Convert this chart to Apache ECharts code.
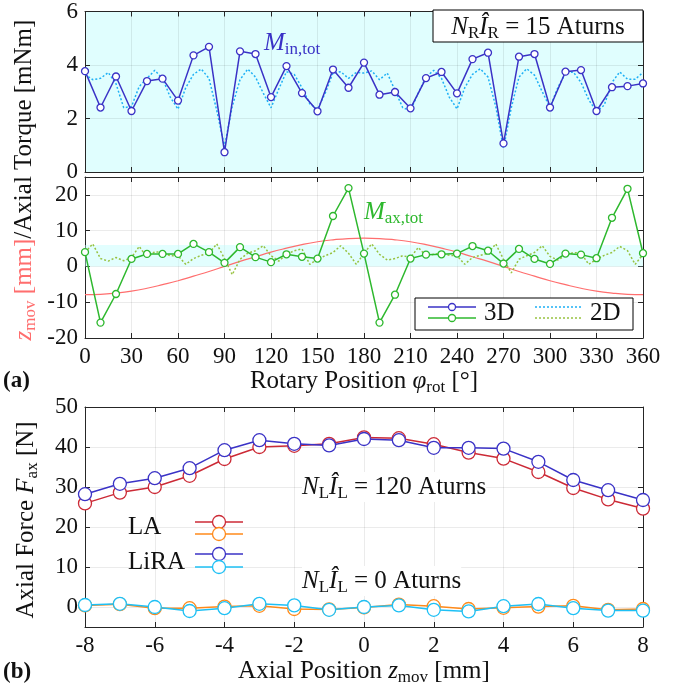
<!DOCTYPE html>
<html><head><meta charset="utf-8">
<script src="https://cdn.jsdelivr.net/npm/echarts@6/dist/echarts.min.js"></script>
<style>html,body{margin:0;padding:0;background:#fff}#c{width:676px;height:690px}</style>
</head><body><div id="c"></div>
<script>
// ---------- DATA ----------
const angles10 = [0,10,20,30,40,50,60,70,80,90,100,110,120,130,140,150,160,170,180,190,200,210,220,230,240,250,260,270,280,290,300,310,320,330,340,350,360];
const angles5 = [0,5,10,15,20,25,30,35,40,45,50,55,60,65,70,75,80,85,90,95,100,105,110,115,120,125,130,135,140,145,150,155,160,165,170,175,180,185,190,195,200,205,210,215,220,225,230,235,240,245,250,255,260,265,270,275,280,285,290,295,300,305,310,315,320,325,330,335,340,345,350,355,360];
const mIn3D = [3.77,2.41,3.57,2.28,3.40,3.49,2.67,4.36,4.68,0.74,4.51,4.41,2.80,3.96,2.95,2.27,3.83,3.15,4.09,2.89,2.99,2.38,3.51,3.74,2.94,4.22,4.46,1.07,4.31,4.41,2.41,3.75,3.81,2.28,3.17,3.21,3.31];
const mIn2D = [3.65,3.45,3.5,3.72,3.3,2.4,2.45,3.2,3.5,3.8,3.5,2.8,2.35,3.15,3.65,3.85,3.5,2.3,0.95,2.45,3.45,3.85,3.55,2.95,2.4,3.1,3.75,3.65,3.15,2.55,2.35,2.95,3.7,3.75,3.5,3.72,3.7,
  3.78,3.45,3.7,3.05,2.4,2.3,2.95,3.55,3.8,3.5,2.8,2.36,3.15,3.65,3.86,3.55,2.45,0.88,2.4,3.55,3.86,3.62,3.0,2.42,3.15,3.7,3.74,3.35,2.7,2.26,2.5,3.35,3.74,3.47,3.47,3.72];
const mAx3D = [4.0,-15.7,-7.7,2.1,3.5,3.5,3.5,6.3,4.0,1.0,5.4,2.6,1.2,3.4,2.7,2.2,14.1,21.9,3.6,-15.7,-7.9,2.2,3.3,3.4,3.6,5.7,4.4,0.8,4.9,2.1,0.7,3.6,3.3,2.3,13.6,21.7,3.7];
const mAx2D = [3.9,6.3,2.2,1.5,2.5,1.6,2.5,5.6,2.5,4.1,3.9,3.0,3.0,0.6,2.2,3.1,3.7,6.3,2.2,-2.3,2.0,3.7,4.4,5.8,3.0,1.5,3.4,4.4,4.9,0.6,2.0,3.0,3.9,5.8,3.7,0.6,3.7,
  6.3,3.4,1.8,2.2,3.0,2.5,5.3,3.0,3.4,3.7,3.1,3.0,0.6,2.5,3.1,3.7,6.3,2.0,-1.8,2.0,3.0,3.9,5.8,2.8,1.8,3.0,3.9,3.7,0.6,2.0,3.1,3.9,5.6,4.4,0.6,3.4];
const zMov = [-7.9,-7.8,-7.45,-6.9,-6.1,-5.1,-4.0,-2.7,-1.4,0,1.4,2.7,4.0,5.1,6.1,6.9,7.45,7.8,7.9,7.8,7.45,6.9,6.1,5.1,4.0,2.7,1.4,0,-1.4,-2.7,-4.0,-5.1,-6.1,-6.9,-7.45,-7.8,-7.9];
const zPos = [-8,-7,-6,-5,-4,-3,-2,-1,0,1,2,3,4,5,6,7,8];
const fLA120 = [25.9,28.6,30.0,32.8,37.0,40.0,40.3,40.8,42.4,42.2,40.7,38.6,37.1,33.75,29.75,26.9,24.6];
const fLiRA120 = [28.2,30.8,32.2,34.7,39.2,41.7,40.8,40.4,42.0,41.7,39.8,39.8,39.6,36.3,31.75,29.2,26.75];
const fLA0 = [0.4,0.7,-0.3,-0.3,0.1,0.3,-0.5,-0.6,-0.1,0.6,0.2,-0.5,-0.2,0.1,0.3,-0.7,-0.5];
const fLiRA0 = [0.5,0.8,0.0,-1.0,-0.3,0.8,0.4,-0.7,0.0,0.4,-0.7,-1.1,0.2,0.75,-0.3,-0.9,-0.9];
const forceTicks = [0,10,20,30,40,50];

// ---------- STYLE ----------
const FF = 'Liberation Serif';
const FS = 23;   // tick labels
const FT = 25;   // other text
const C = {
  blue:'#3a32c6', cyan2d:'#1eb0f5', green:'#2eb82e', ygreen:'#98c240', red:'#ff6e6e',
  la:'#cc2a36', la0:'#ff8a1a', lira:'#3a32c6', lira0:'#1ec0f5', band:'#e0fefe', axis:'#262626', grid:'rgba(0,0,0,0.08)'
};
const pair = (xs, ys) => xs.map((x, i) => [x, ys[i]]);

function xAx(gi, min, max, itv, showLabel, top) {
  return {
    type:'value', gridIndex:gi, min, max, interval:itv, position: top ? 'top' : 'bottom',
    axisLine:{show:true, onZero:false, lineStyle:{color:C.axis, width:1}},
    axisTick:{show:true, inside:true, length:5, lineStyle:{color:C.axis}},
    axisLabel:{show:showLabel, fontFamily:FF, fontSize:FS, color:'#111', margin:7},
    splitLine:{show:!top, lineStyle:{color:C.grid, width:1}}
  };
}
function yAx(gi, min, max, itv, showLabel, right, extraLabel, custom) {
  const ax = {
    type:'value', gridIndex:gi, min, max, interval:itv, position: right ? 'right' : 'left',
    axisLine:{show:true, onZero:false, lineStyle:{color:C.axis, width:1}},
    axisTick:{show:true, inside:true, length:5, lineStyle:{color:C.axis}},
    axisLabel:Object.assign({show:showLabel, fontFamily:FF, fontSize:FS, color:'#111', margin:7}, extraLabel || {}),
    splitLine:{show:!right, lineStyle:{color:C.grid, width:1}}
  };
  if (custom) { ax.axisTick.customValues = custom; ax.axisLabel.customValues = custom; }
  return ax;
}

const sub = (col) => ({fontFamily:FF, fontSize:17, lineHeight:16, padding:[13,0,0,0], fill:col});
const main = (col, italic) => ({fontFamily:FF, fontSize:FT, lineHeight:30, fontStyle: italic ? 'italic' : 'normal', fill:col});

function txt(x, y, text, rich, opts) {
  return Object.assign({
    type:'text', x, y, z:100,
    style:Object.assign({text, rich, fontFamily:FF, fontSize:FT, fill:'#111', align:'left', verticalAlign:'middle'}, (opts && opts.style) || {})
  }, opts && opts.el || {});
}
const K = '#111';
const graphics = [
  {type:'rect', shape:{x:433, y:10, width:210, height:32}, style:{fill:'#fff', stroke:'#000', lineWidth:1}, z:99},
  txt(538, 27, '{i|N}{s|R}{i|Î}{s|R}{n| = 15 Aturns}', {i:main(K,true), n:main(K), s:sub(K)}, {style:{align:'center'}}),
  txt(264, 43, '{i|M}{s|in,tot}', {i:main(C.blue,true), s:sub(C.blue)}),
  txt(364, 212, '{i|M}{s|ax,tot}', {i:main(C.green,true), s:sub(C.green)}),
  // legend (middle)
  {type:'rect', shape:{x:415, y:298, width:218, height:32}, style:{fill:'#fff', stroke:'#000', lineWidth:1}, z:99},
  {type:'line', shape:{x1:428, y1:307, x2:476, y2:307}, style:{stroke:C.blue, lineWidth:1.5}, z:100},
  {type:'circle', shape:{cx:452, cy:307, r:3.5}, style:{fill:'#fff', stroke:C.blue, lineWidth:1.3}, z:101},
  {type:'line', shape:{x1:428, y1:318, x2:476, y2:318}, style:{stroke:C.green, lineWidth:1.5}, z:100},
  {type:'circle', shape:{cx:452, cy:318, r:3.5}, style:{fill:'#fff', stroke:C.green, lineWidth:1.3}, z:101},
  txt(484, 313, '3D', null),
  {type:'line', shape:{x1:535, y1:307, x2:583, y2:307}, style:{stroke:C.cyan2d, lineWidth:1.5, lineDash:[2,2]}, z:100},
  {type:'line', shape:{x1:535, y1:318, x2:583, y2:318}, style:{stroke:C.ygreen, lineWidth:1.5, lineDash:[2,2]}, z:100},
  txt(590, 313, '2D', null),
  txt(3, 381, '(a)', null, {style:{fontWeight:'bold', fontSize:23}}),
  txt(364, 381, '{n|Rotary Position }{i|φ}{s|rot}{n| [°]}', {n:main(K), i:main(K,true), s:sub(K)}, {style:{align:'center'}}),
  txt(24, 180, '{pi|z}{ps|mov}{p| [mm]}{n|/Axial Torque [mNm]}', {pi:main(C.red,true), ps:sub(C.red), p:main(C.red), n:main(K)}, {style:{align:'center'}, el:{rotation:Math.PI/2}}),
  txt(302, 487, '{i|N}{s|L}{i|Î}{s|L}{n| = 120 Aturns}', {i:main(K,true), n:main(K), s:sub(K)}, {style:{backgroundColor:'#fff'}}),
  txt(302, 581, '{i|N}{s|L}{i|Î}{s|L}{n| = 0 Aturns}', {i:main(K,true), n:main(K), s:sub(K)}, {style:{backgroundColor:'#fff'}}),
  // bottom legend
  txt(128, 527, 'LA', null),
  {type:'line', shape:{x1:195, y1:522, x2:243, y2:522}, style:{stroke:C.la, lineWidth:1.5}, z:100},
  {type:'circle', shape:{cx:219, cy:522, r:6.5}, style:{fill:'#fff', stroke:C.la, lineWidth:1.3}, z:101},
  {type:'line', shape:{x1:195, y1:534, x2:243, y2:534}, style:{stroke:C.la0, lineWidth:1.5}, z:100},
  {type:'circle', shape:{cx:219, cy:534, r:6.5}, style:{fill:'#fff', stroke:C.la0, lineWidth:1.3}, z:101},
  txt(128, 562, 'LiRA', null),
  {type:'line', shape:{x1:195, y1:554, x2:243, y2:554}, style:{stroke:C.lira, lineWidth:1.5}, z:100},
  {type:'circle', shape:{cx:219, cy:554, r:6.5}, style:{fill:'#fff', stroke:C.lira, lineWidth:1.3}, z:101},
  {type:'line', shape:{x1:195, y1:567, x2:243, y2:567}, style:{stroke:C.lira0, lineWidth:1.5}, z:100},
  {type:'circle', shape:{cx:219, cy:567, r:6.5}, style:{fill:'#fff', stroke:C.lira0, lineWidth:1.3}, z:101},
  txt(3, 672, '(b)', null, {style:{fontWeight:'bold', fontSize:23}}),
  txt(364, 671, '{n|Axial Position }{i|z}{s|mov}{n| [mm]}', {n:main(K), i:main(K,true), s:sub(K)}, {style:{align:'center'}}),
  txt(26, 520, '{n|Axial Force }{i|F}{s|ax}{n| [N]}', {n:main(K), i:main(K,true), s:sub(K)}, {style:{align:'center'}, el:{rotation:Math.PI/2}})
];

const lineS = (name, xi, yi, data, color, opts) => Object.assign({
  name, type:'line', xAxisIndex:xi, yAxisIndex:yi, data, animation:false,
  lineStyle:{color, width:1.5}, itemStyle:{color:'#fff', borderColor:color, borderWidth:1.3},
  symbol:'circle', symbolSize:7, showSymbol:true, z:3
}, opts || {});

const option = {
  animation:false,
  backgroundColor:'#fff',
  grid:[
    {left:85, width:558, top:10, height:162, show:true, backgroundColor:C.band, borderWidth:0},
    {left:85, width:558, top:177, height:161},
    {left:85, width:558, top:407, height:220}
  ],
  xAxis:[
    xAx(0,0,360,30,false,false), xAx(0,0,360,30,false,true),
    xAx(1,0,360,30,true,false), xAx(1,0,360,30,false,true),
    xAx(2,-8,8,2,true,false), xAx(2,-8,8,2,false,true)
  ],
  yAxis:[
    yAx(0,0,6,2,true,false), yAx(0,0,6,2,false,true),
    yAx(1,-20,25,10,true,false,{showMaxLabel:false}), yAx(1,-20,25,10,false,true),
    yAx(2,-5,50,5,true,false,null,forceTicks), yAx(2,-5,50,5,false,true,null,forceTicks)
  ],
  series:[
    lineS('mIn2D',0,0,pair(angles5,mIn2D),C.cyan2d,{symbol:'none', lineStyle:{color:C.cyan2d, width:1.5, type:[2,2]}}),
    lineS('mIn3D',0,0,pair(angles10,mIn3D),C.blue),
    lineS('zMov',2,2,pair(angles10,zMov),C.red,{symbol:'none', lineStyle:{color:C.red, width:1.2}, smooth:true, z:2,
      markArea:{silent:true, itemStyle:{color:'rgba(190,252,252,0.45)'}, data:[[{yAxis:0},{yAxis:6}]]}}),
    lineS('mAx2D',2,2,pair(angles5,mAx2D),C.ygreen,{symbol:'none', lineStyle:{color:C.ygreen, width:1.5, type:[2,2]}}),
    lineS('mAx3D',2,2,pair(angles10,mAx3D),C.green),
    lineS('LA120',4,4,pair(zPos,fLA120),C.la,{symbolSize:13}),
    lineS('LA0',4,4,pair(zPos,fLA0),C.la0,{symbolSize:13}),
    lineS('LiRA120',4,4,pair(zPos,fLiRA120),C.lira,{symbolSize:13}),
    lineS('LiRA0',4,4,pair(zPos,fLiRA0),C.lira0,{symbolSize:13})
  ],
  graphic:graphics
};
const chart = echarts.init(document.getElementById('c'), null, {renderer:'canvas'});
chart.setOption(option);
</script></body></html>
